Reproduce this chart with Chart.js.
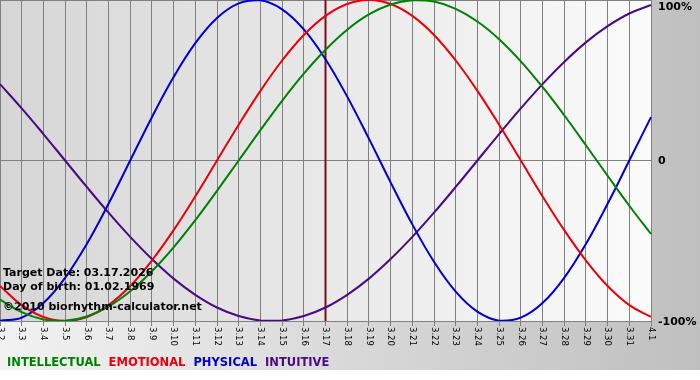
<!DOCTYPE html>
<html>
<head>
<meta charset="utf-8">
<script src="https://cdn.jsdelivr.net/npm/chart.js@4.4.1/dist/chart.umd.min.js"></script>
<style>
  html, body { margin: 0; padding: 0; background: #ffffff; }
  #wrap { width: 700px; height: 380px; }
</style>
</head>
<body>
<div id="wrap"><canvas id="chart-area" width="700" height="380"></canvas></div>
<script>
// days on the x axis (month.day)
const days = ['3.2','3.3','3.4','3.5','3.6','3.7','3.8','3.9','3.10','3.11','3.12','3.13','3.14','3.15','3.16',
              '3.17','3.18','3.19','3.20','3.21','3.22','3.23','3.24','3.25','3.26','3.27','3.28','3.29','3.30','3.31','4.1'];

// cycle values in percent, one per day
const intellectual = [-86.6,-94.5,-99.0,-99.9,-97.2,-91.0,-81.5,-69.0,-54.1,-37.2,-18.9,0,18.9,37.2,54.1,
                      69.0,81.5,91.0,97.2,99.9,99.0,94.5,86.6,75.6,61.8,45.8,28.2,9.5,-9.5,-28.2,-45.8];
const emotional = [-78.2,-90.1,-97.5,-100,-97.5,-90.1,-78.2,-62.3,-43.4,-22.3,0,22.3,43.4,62.3,78.2,
                   90.1,97.5,100,97.5,90.1,78.2,62.3,43.4,22.3,0,-22.3,-43.4,-62.3,-78.2,-90.1,-97.5];
const physical = [-99.8,-97.9,-88.8,-73.1,-52.0,-27.0,0,27.0,52.0,73.1,88.8,97.9,99.8,94.2,81.7,
                  63.1,39.8,13.6,-13.6,-39.8,-63.1,-81.7,-94.2,-99.8,-97.9,-88.8,-73.1,-52.0,-27.0,0,27.0];
const intuitive = [47.6,32.5,16.5,0,-16.5,-32.5,-47.6,-61.4,-73.6,-83.7,-91.6,-96.9,-99.7,-99.7,-96.9,
                   -91.6,-83.7,-73.6,-61.4,-47.6,-32.5,-16.5,0,16.5,32.5,47.6,61.4,73.6,83.7,91.6,96.9];

const seriesNames = ['INTELLECTUAL', 'EMOTIONAL', 'PHYSICAL', 'INTUITIVE'];
const yTicks = [100, 0, -100];
const yTickLabels = ['100%', '0', '-100%'];
const targetDay = '3.17';
const infoLines = ['Target Date: 03.17.2026', 'Day of birth: 01.02.1969', '\u00a92010 biorhythm-calculator.net'];

const colors = ['#008000', '#e8000c', '#0000cc', '#4a0a80'];
const FONT = '"DejaVu Sans", Verdana, sans-serif';

const decor = {
    id: 'decor',
    beforeDraw(chart) {
        const ctx = chart.ctx, a = chart.chartArea;
        ctx.save();
        // outer frame
        let g = ctx.createLinearGradient(0, 0, chart.width, 0);
        g.addColorStop(0, '#f2f2f2');
        g.addColorStop(1, '#bfbfbf');
        ctx.fillStyle = g;
        ctx.fillRect(0, 0, chart.width, 370);
        // plot background
        g = ctx.createLinearGradient(a.left, 0, a.right, 0);
        g.addColorStop(0, '#d6d6d6');
        g.addColorStop(1, '#fbfbfb');
        ctx.fillStyle = g;
        ctx.fillRect(a.left, a.top, a.right - a.left, a.bottom - a.top);
        ctx.restore();
    },
    beforeDatasetsDraw(chart) {
        const ctx = chart.ctx, a = chart.chartArea;
        const x = chart.scales.x.getPixelForValue(days.indexOf(targetDay));
        ctx.save();
        ctx.strokeStyle = '#801010';
        ctx.lineWidth = 2;
        ctx.beginPath();
        ctx.moveTo(x, a.top);
        ctx.lineTo(x, a.bottom);
        ctx.stroke();
        ctx.restore();
    },
    afterDraw(chart) {
        const ctx = chart.ctx, a = chart.chartArea;
        const xs = chart.scales.x, ys = chart.scales.y;
        ctx.save();
        ctx.fillStyle = '#000';

        // day labels, turned clockwise
        ctx.font = '8.5px ' + FONT;
        ctx.textAlign = 'left';
        ctx.textBaseline = 'middle';
        days.forEach((d, i) => {
            ctx.save();
            ctx.translate(xs.getPixelForValue(i), a.bottom + 6);
            ctx.rotate(Math.PI / 2);
            ctx.fillText(d, 0, 0);
            ctx.restore();
        });

        // percent labels on the right
        ctx.font = 'bold 11px ' + FONT;
        yTicks.forEach((v, i) => {
            let y = ys.getPixelForValue(v) + 1;
            y = Math.max(y, a.top + 7);
            ctx.fillText(yTickLabels[i], a.right + 7, y);
        });

        // info text
        ctx.textBaseline = 'alphabetic';
        ctx.fillText(infoLines[0], 3, 276);
        ctx.fillText(infoLines[1], 3, 289.5);
        ctx.fillText(infoLines[2], 3, 310);

        // legend
        ctx.font = 'bold 11.5px ' + FONT;
        let lx = 7;
        seriesNames.forEach((n, i) => {
            ctx.fillStyle = colors[i];
            ctx.fillText(n, lx, 366);
            lx += ctx.measureText(n).width + 8;
        });
        ctx.restore();
    }
};

const ctx = document.getElementById('chart-area').getContext('2d');
const seriesData = [intellectual, emotional, physical, intuitive];

new Chart(ctx, {
    type: 'line',
    data: {
        labels: days,
        datasets: seriesData.map((d, i) => ({
            label: seriesNames[i],
            data: d,
            borderColor: colors[i],
            borderWidth: 2,
            pointRadius: 0,
            tension: 0.4,
            fill: false
        }))
    },
    options: {
        responsive: false,
        animation: false,
        events: [],
        layout: { padding: 0 },
        plugins: {
            legend: { display: false },
            tooltip: { enabled: false }
        },
        scales: {
            x: {
                type: 'category',
                offset: false,
                grid: { color: '#808080', lineWidth: 1, drawTicks: true, tickLength: 5 },
                border: { color: '#808080' },
                ticks: { display: false, autoSkip: false },
                afterFit(scale) { scale.height = 59; }
            },
            y: {
                position: 'right',
                min: -100,
                max: 100,
                afterBuildTicks(scale) { scale.ticks = yTicks.map(v => ({ value: v })); },
                grid: { color: '#808080', lineWidth: 1, drawTicks: false },
                border: { color: '#808080' },
                ticks: { display: false },
                afterFit(scale) { scale.width = 49; }
            }
        }
    },
    plugins: [decor]
});
</script>
</body>
</html>
